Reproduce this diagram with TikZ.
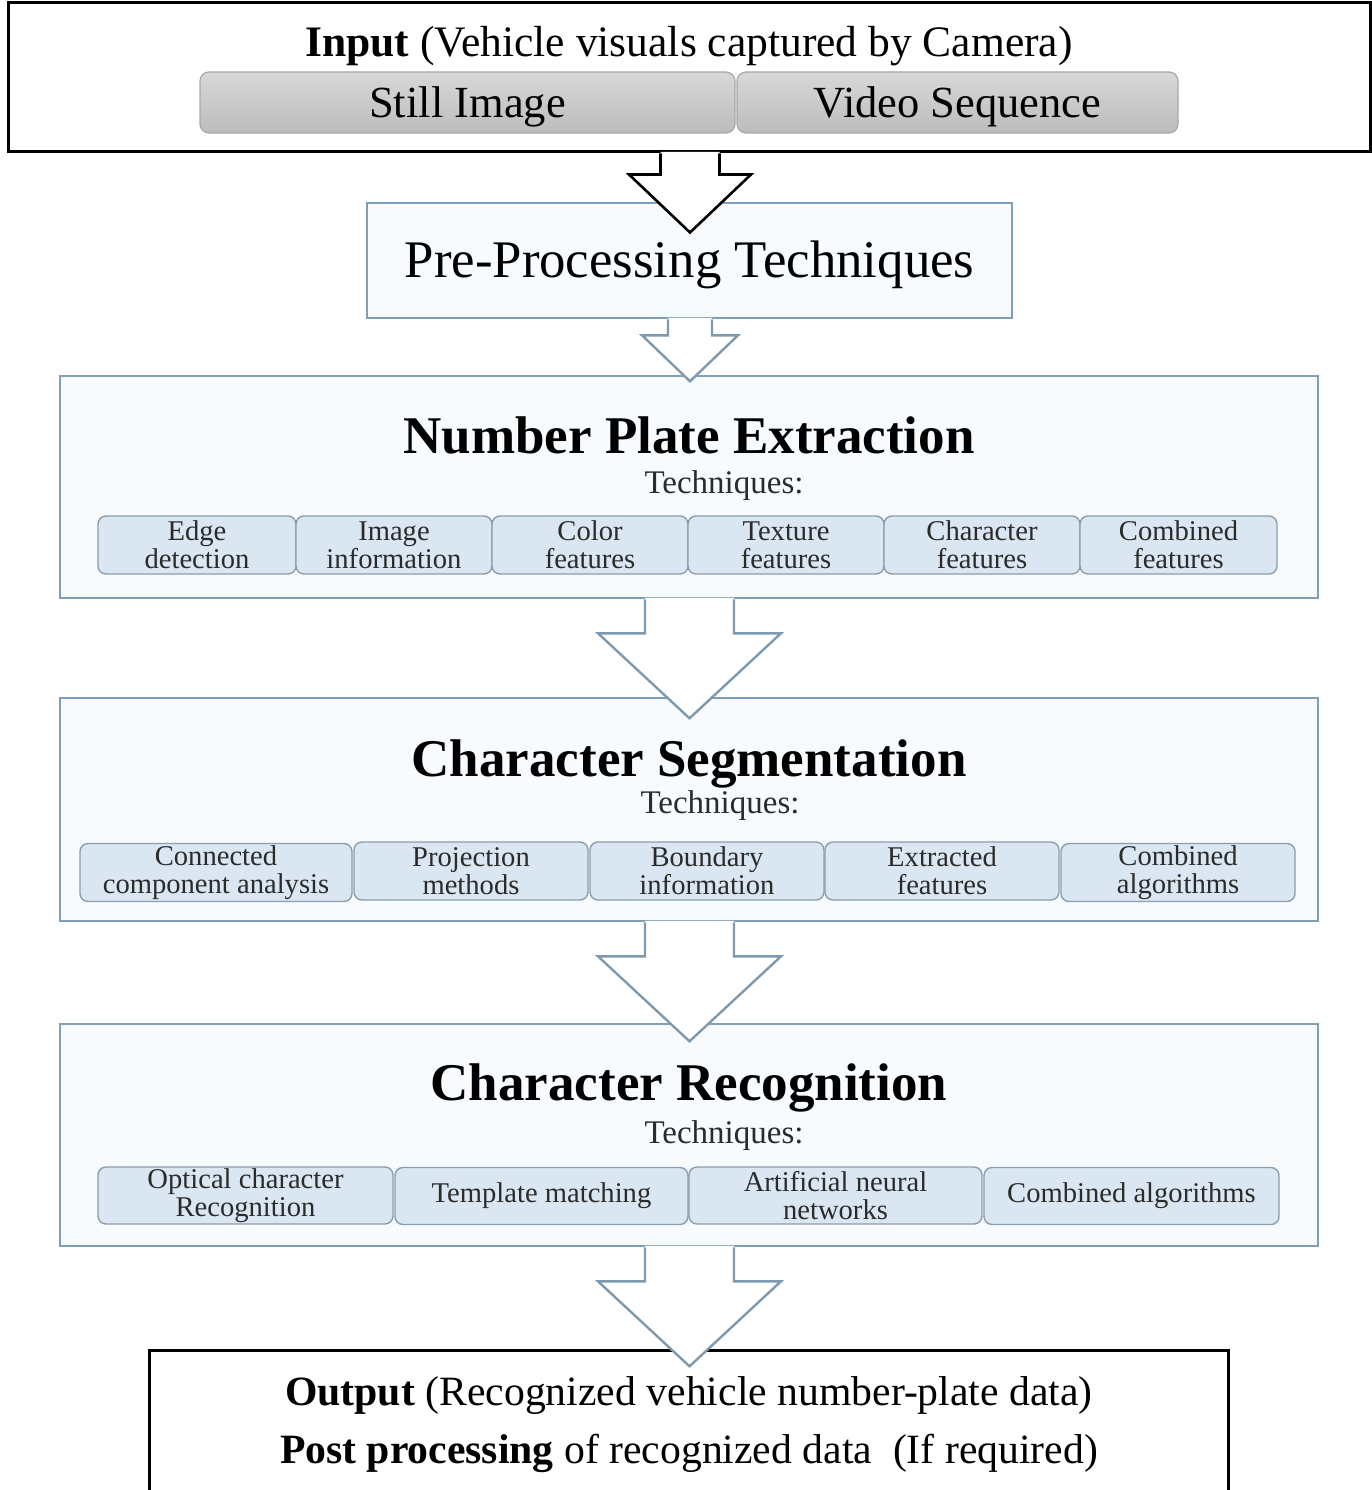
\documentclass[tikz,border=0pt]{standalone}
\usepackage{fontspec}
\setmainfont{Liberation Serif}
\usetikzlibrary{calc}
\definecolor{cborder}{HTML}{7F9FB9}
\definecolor{cfill}{HTML}{F8FBFE}
\definecolor{tfill}{HTML}{DAE6F2}
\definecolor{tborder}{HTML}{8A9EAE}
\definecolor{gtop}{HTML}{D8D8D8}
\definecolor{gbot}{HTML}{BCBCBC}
\definecolor{gborder}{HTML}{A8A8A8}
\definecolor{aborder}{HTML}{7F99AE}
\definecolor{ttext}{HTML}{2B2B2B}
\begin{document}
\begin{tikzpicture}[x=1pt,y=-1pt,
  container/.style={draw=cborder,fill=cfill,line width=2.6pt,inner sep=0pt},
  blackbox/.style={draw=black,fill=white,line width=3pt,inner sep=0pt},
  greybox/.style={draw=gborder,top color=gtop,bottom color=gbot,line width=1.2pt,rounded corners=9pt,inner sep=0pt,minimum height=61pt,text height=30pt,text depth=0pt,font=\fontsize{44.5}{50}\selectfont},
  tech/.style={draw=tborder,fill=tfill,line width=1.4pt,rounded corners=8pt,inner sep=0pt,align=center,text=ttext,font=\fontsize{28.6}{28}\selectfont},
  title/.style={anchor=base,font=\fontsize{53}{60}\selectfont\bfseries},
  techlbl/.style={anchor=base,text=ttext,font=\fontsize{33}{38}\selectfont},
  bigtext/.style={anchor=base,font=\fontsize{43.5}{50}\selectfont},
  outtext/.style={anchor=base,font=\fontsize{41.7}{48}\selectfont},
  arrowfill/.style={fill=white},
  arrowline/.style={draw=aborder,line width=2.4pt,line join=miter},
  arrowlineblack/.style={draw=black,line width=2.6pt,line join=miter}]
\useasboundingbox (0,0) rectangle (1372,1490);
\fill[white] (0,0) rectangle (1372,1490);

% ---------- Input box ----------
\node[blackbox,minimum width=1362pt,minimum height=149pt] (input) at (689,77.5) {};
\node[bigtext] (inputlbl) at (689,57) {\textbf{Input} (Vehicle visuals captured by Camera)};
\node[greybox,minimum width=535pt] (still) at (467.5,102.5) {Still Image};
\node[greybox,minimum width=441pt] (video) at (957.5,102.5) {Video Sequence};

% ---------- Pre-processing ----------
\node[container,minimum width=645pt,minimum height=115pt] (pre) at (689.5,260.5) {};
\node[anchor=base,font=\fontsize{52.8}{60}\selectfont] (prelbl) at (689.5,277) {Pre-Processing Techniques};

% ---------- Number plate extraction ----------
\node[container,minimum width=1258pt,minimum height=222pt] (npe) at (689,487) {};
\node[title] (npelbl) at (689,453) {Number Plate Extraction};
\node[techlbl] (npetech) at (724,493) {Techniques:};
\node[tech,minimum width=198pt,minimum height=58pt] (n1) at (197,545) {Edge\\detection};
\node[tech,minimum width=196pt,minimum height=58pt] (n2) at (394,545) {Image\\information};
\node[tech,minimum width=196pt,minimum height=58pt] (n3) at (590,545) {Color\\features};
\node[tech,minimum width=196pt,minimum height=58pt] (n4) at (786,545) {Texture\\features};
\node[tech,minimum width=196pt,minimum height=58pt] (n5) at (982,545) {Character\\features};
\node[tech,minimum width=197pt,minimum height=58pt] (n6) at (1178.5,545) {Combined\\features};

% ---------- Character segmentation ----------
\node[container,minimum width=1258pt,minimum height=223pt] (seg) at (689,809.5) {};
\node[title] (seglbl) at (689,776) {Character Segmentation};
\node[techlbl] (segtech) at (720,813) {Techniques:};
\node[tech,minimum width=272pt,minimum height=58pt] (s1) at (216,872.5) {Connected\\component analysis};
\node[tech,minimum width=234pt,minimum height=58pt] (s2) at (471,871) {Projection\\methods};
\node[tech,minimum width=234pt,minimum height=58pt] (s3) at (707,871) {Boundary\\information};
\node[tech,minimum width=234pt,minimum height=58pt] (s4) at (942,871) {Extracted\\features};
\node[tech,minimum width=234pt,minimum height=58pt] (s5) at (1178,872.5) {Combined\\algorithms};

% ---------- Character recognition ----------
\node[container,minimum width=1258pt,minimum height=222pt] (rec) at (689,1135) {};
\node[title] (reclbl) at (689,1100) {Character Recognition};
\node[techlbl] (rectech) at (724,1143) {Techniques:};
\node[tech,minimum width=295pt,minimum height=57pt] (r1) at (245.5,1195.5) {Optical character\\Recognition};
\node[tech,minimum width=293pt,minimum height=57pt] (r2) at (541.5,1196) {Template matching};
\node[tech,minimum width=293pt,minimum height=57pt] (r3) at (835.5,1195.5) {Artificial neural\\networks};
\node[tech,minimum width=295pt,minimum height=57pt] (r4) at (1131.5,1196) {Combined algorithms};

% ---------- Output ----------
\node[inner sep=0pt,minimum width=1078pt,minimum height=160pt] (output) at (689,1431) {};
\draw[black,line width=3pt] (output.south west) -- (output.north west) -- (output.north east) -- (output.south east);
\node[outtext] (outlbl) at (689,1405) {\textbf{Output} (Recognized vehicle number-plate data)};
\node[outtext] (postlbl) at (689,1463) {\textbf{Post processing} of recognized data\ \ (If required)};

% ---------- Block arrows ----------
% arrow 1 (input -> pre)
\coordinate (a1) at (input.south -| 690,0);
\fill[arrowfill,shift={(a1)}] (-29.5,-1.6) -- (-29.5,21) -- (-61,21) -- (0,79) -- (61,21) -- (29.5,21) -- (29.5,-1.6) -- cycle;
\draw[arrowlineblack,shift={(a1)}] (-29.5,0) -- (-29.5,21) -- (-61,21) -- (0,79) -- (61,21) -- (29.5,21) -- (29.5,0);
% arrow 2 (pre -> npe)
\coordinate (a2) at (pre.south -| 690,0);
\fill[arrowfill,shift={(a2)}] (-22,-1.4) -- (-22,16) -- (-48,16) -- (0,62) -- (48,16) -- (22,16) -- (22,-1.4) -- cycle;
\draw[arrowline,shift={(a2)}] (-22,0) -- (-22,16) -- (-48,16) -- (0,62) -- (48,16) -- (22,16) -- (22,0);
% arrow 3 (npe -> seg)
\coordinate (a3) at (npe.south -| 689.5,0);
\fill[arrowfill,shift={(a3)}] (-44.5,-1.4) -- (-44.5,34) -- (-91.5,34) -- (0,119) -- (91.5,34) -- (44.5,34) -- (44.5,-1.4) -- cycle;
\draw[arrowline,shift={(a3)}] (-44.5,0) -- (-44.5,34) -- (-91.5,34) -- (0,119) -- (91.5,34) -- (44.5,34) -- (44.5,0);
% arrow 4 (seg -> rec)
\coordinate (a4) at (seg.south -| 689.5,0);
\fill[arrowfill,shift={(a4)}] (-44.5,-1.4) -- (-44.5,34) -- (-91.5,34) -- (0,119) -- (91.5,34) -- (44.5,34) -- (44.5,-1.4) -- cycle;
\draw[arrowline,shift={(a4)}] (-44.5,0) -- (-44.5,34) -- (-91.5,34) -- (0,119) -- (91.5,34) -- (44.5,34) -- (44.5,0);
% arrow 5 (rec -> output)
\coordinate (a5) at (rec.south -| 689.5,0);
\fill[arrowfill,shift={(a5)}] (-44.5,-1.4) -- (-44.5,34) -- (-91.5,34) -- (0,119) -- (91.5,34) -- (44.5,34) -- (44.5,-1.4) -- cycle;
\draw[arrowline,shift={(a5)}] (-44.5,0) -- (-44.5,34) -- (-91.5,34) -- (0,119) -- (91.5,34) -- (44.5,34) -- (44.5,0);
\end{tikzpicture}
\end{document}
